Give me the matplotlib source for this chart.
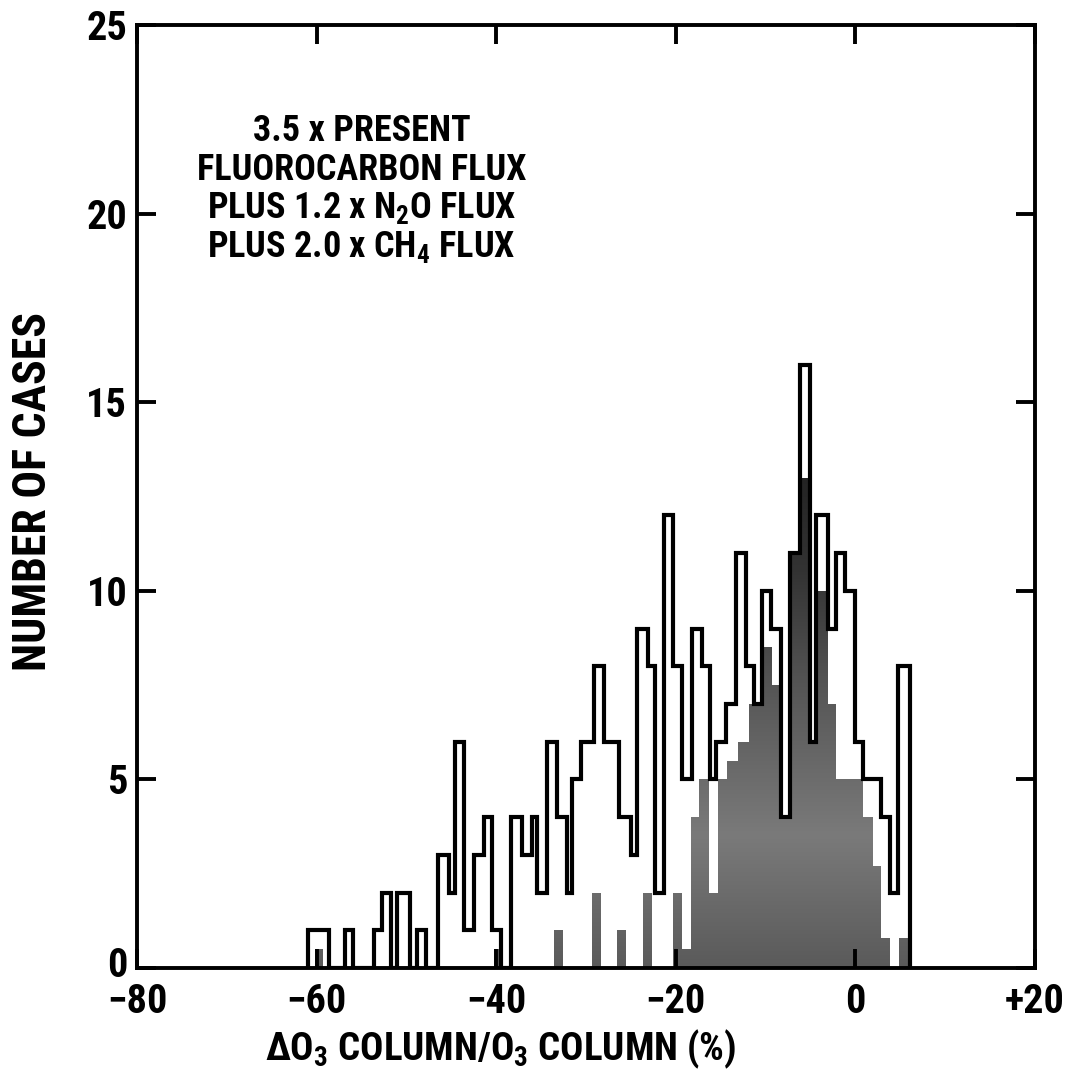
import matplotlib
matplotlib.use("Agg")
import matplotlib.pyplot as plt
from matplotlib import font_manager
import matplotlib.transforms as mtransforms
import numpy as np

# ---------------- data ----------------
# open (outline) histogram: bin edges (% change) and number of cases
outline_edges = [-60.9, -58.6, -56.8, -55.9, -53.6, -52.7, -51.7, -51.0, -49.6, -48.8,
                 -47.8, -46.5, -45.2, -44.6, -43.6, -42.5, -41.4, -40.5, -39.5, -38.4,
                 -37.1, -36.0, -35.4, -34.3, -33.2, -32.1, -31.5, -30.6, -29.1, -28.0,
                 -26.3, -25.0, -24.3, -23.1, -22.3, -21.3, -20.3, -19.3, -18.2, -17.1,
                 -16.2, -15.5, -14.4, -13.3, -12.2, -11.3, -10.4, -9.4, -8.3, -7.3,
                 -6.2, -5.1, -4.4, -3.1, -2.2, -1.2, 0.0, 0.9, 2.9, 3.85,
                 4.8, 6.1]
outline_counts = [1, 0, 1, 0, 1, 2, 0, 2, 0, 1,
                  0, 3, 2, 6, 1, 3, 4, 1, 0, 4,
                  3, 4, 2, 6, 4, 2, 5, 6, 8, 6,
                  4, 3, 9, 8, 2, 12, 8, 5, 9, 8,
                  5, 6, 7, 11, 8, 7, 10, 9, 4, 11,
                  16, 6, 12, 9, 11, 10, 6, 5, 4, 2,
                  8]

# shaded (filled) histogram
filled_edges = [-60.2, -59.3, -40.2, -39.2, -33.6, -32.6, -29.3, -28.3, -26.5, -25.5,
                -23.6, -22.6, -20.3, -19.3, -18.3, -17.4, -16.3, -15.3, -14.3, -13.1,
                -11.8, -10.3, -9.3, -8.3, -7.3, -6.2, -5.1, -4.4, -3.1, -2.2,
                -1.2, 0.9, 2.0, 2.9, 3.85, 4.9, 6.0]
filled_counts = [0.5, 0, 0.5, 0, 1, 0, 2, 0, 1, 0,
                 2, 0, 2, 0.5, 4, 5, 2, 5, 5.5, 6,
                 7, 8.5, 7.5, 4, 11, 13, 6, 10, 7, 5,
                 5, 4, 2.7, 0.8, 0, 0.8]

x_ticks = [-80, -60, -40, -20, 0, 20]
x_ticklabels = ["\u221280", "\u221260", "\u221240", "\u221220", "0", "+20"]
y_ticks = [0, 5, 10, 15, 20, 25]

legend_lines = ["3.5 x PRESENT", "FLUOROCARBON FLUX",
                "PLUS 1.2 x N$_2$O FLUX", "PLUS 2.0 x CH$_4$ FLUX"]

# ---------------- fonts: prefer a condensed bold sans ----------------
installed = {f.name for f in font_manager.fontManager.ttflist}
condensed_stretch = {f.name for f in font_manager.fontManager.ttflist
                     if str(f.stretch) in ("condensed", "semi-condensed", "extra-condensed", "75", "87")}
narrow = None
for cand in ["Liberation Sans Narrow", "Roboto Condensed", "Open Sans Condensed",
             "DejaVu Sans Condensed", "Arial Narrow"]:
    if cand in installed:
        narrow = cand
        break
STRETCH = "normal"
if narrow is None:
    for cand in ["DejaVu Sans", "Open Sans", "Noto Sans", "Roboto"]:
        if cand in condensed_stretch:
            narrow = cand
            STRETCH = "condensed"
            break
SCALE = 1.0
if narrow is None:
    narrow = "Liberation Sans"
    SCALE = 0.86

FAM = [narrow, "Liberation Sans", "DejaVu Sans"]
plt.rcParams["font.family"] = FAM
plt.rcParams["font.weight"] = "bold"
plt.rcParams["font.stretch"] = STRETCH
plt.rcParams["mathtext.fontset"] = "custom"
plt.rcParams["mathtext.rm"] = narrow + ":bold"
plt.rcParams["mathtext.it"] = narrow + ":bold"
plt.rcParams["mathtext.bf"] = narrow + ":bold"
plt.rcParams["mathtext.default"] = "rm"

fig = plt.figure(figsize=(10.65, 10.81), dpi=100)
ax = fig.add_axes([0.1286, 0.1045, 0.8432, 0.8723])

# shaded histogram with a mottled grey gradient (dark on top, lighter lower)
fill_patch = ax.stairs(filled_counts, filled_edges, fill=True, color="#4a4a4a", zorder=1)
grad = np.linspace(0, 1, 256).reshape(-1, 1)
cmap = matplotlib.colors.LinearSegmentedColormap.from_list(
    "g", ["#5a5a5a", "#7a7a7a", "#5a5a5a", "#333333", "#1e1e1e"])
im = ax.imshow(grad, extent=[-80, 20, 0, 14], origin="lower", aspect="auto",
               cmap=cmap, zorder=1.5, interpolation="bilinear")
im.set_clip_path(fill_patch)

ax.stairs(outline_counts, outline_edges, fill=False, color="black",
          linewidth=3.0, baseline=0, zorder=2)

ax.set_xlim(-80, 20)
ax.set_ylim(0, 25)
ax.set_xticks(x_ticks)
ax.set_xticklabels(x_ticklabels)
ax.set_yticks(y_ticks)

for s in ax.spines.values():
    s.set_linewidth(2.8)

ax.tick_params(axis="both", direction="in", length=14, width=2.8,
               top=True, right=True, labelsize=29 * SCALE)
ax.tick_params(axis="x", pad=11)
ax.tick_params(axis="y", pad=7)

# nudge the y "0" label up a little so it clears the "-80" label
lab0 = ax.get_yticklabels()[0]
lab0.set_transform(lab0.get_transform() +
                   mtransforms.ScaledTranslation(0, 4 / 72, fig.dpi_scale_trans))

ax.set_xlabel("\u0394O$_3$ COLUMN/O$_3$ COLUMN (%)", fontsize=28 * SCALE,
              fontweight="bold")
ax.xaxis.set_label_coords(0.405, -0.063)
ax.set_ylabel("NUMBER OF CASES", fontsize=33 * SCALE, fontweight="bold")
ax.yaxis.set_label_coords(-0.091, 0.505)

for i, line in enumerate(legend_lines):
    ax.text(-55, 22.2 - i * 1.03, line, ha="center", va="center",
            fontsize=26 * SCALE, fontweight="bold")

fig.savefig("out.png", dpi=100)
